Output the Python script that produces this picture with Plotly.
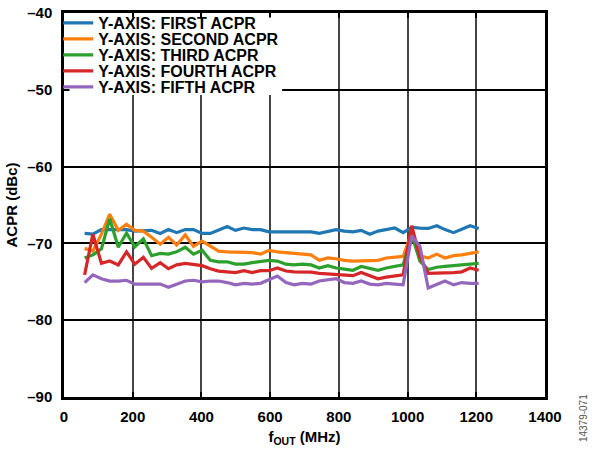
import plotly.graph_objects as go

freq_mhz = [60, 84, 109, 133, 158, 182, 206, 231, 255, 280, 304, 328, 353, 377, 402, 426,
            450, 475, 499, 524, 548, 572, 597, 621, 646, 670, 694, 719, 743, 768, 792, 816,
            841, 865, 890, 914, 938, 963, 987, 1012, 1036, 1060, 1085, 1109, 1134, 1158,
            1182, 1207]

first_acpr = [-68.7, -68.8, -68.2, -68.2, -68.3, -68.2, -68.4, -68.3, -68.3, -68.7, -68.2,
              -68.6, -68.2, -68.2, -68.7, -68.7, -68.3, -67.8, -68.3, -68.0, -68.2, -68.2,
              -68.5, -68.5, -68.4, -68.5, -68.4, -68.5, -68.7, -68.4, -68.2, -68.4, -68.5,
              -68.3, -68.8, -68.4, -68.2, -68.0, -68.6, -67.9, -68.0, -68.05, -67.7, -68.2,
              -68.6, -68.2, -67.7, -68.05]
second_acpr = [-70.65, -71.0, -68.8, -66.2, -68.3, -67.5, -68.3, -68.4, -69.2, -70.1, -69.2,
               -70.2, -68.9, -70.4, -69.7, -70.4, -71.0, -71.1, -71.1, -71.1, -71.2, -71.4,
               -70.9, -71.1, -71.2, -71.3, -71.3, -71.5, -72.2, -71.9, -72.0, -72.2, -72.3,
               -72.3, -72.2, -72.2, -71.9, -71.8, -71.7, -68.6, -71.6, -71.9, -71.4, -71.9,
               -71.6, -71.5, -71.3, -71.1]
third_acpr = [-71.9, -71.5, -70.7, -66.8, -70.5, -68.65, -70.45, -69.4, -71.6, -71.3, -71.4,
              -71.1, -70.5, -71.4, -70.9, -72.2, -72.4, -72.4, -72.7, -72.7, -72.5, -72.4,
              -72.2, -72.3, -72.7, -72.8, -72.7, -72.8, -73.2, -72.9, -73.2, -73.35, -73.5,
              -73.0, -73.3, -73.5, -73.2, -73.0, -72.8, -68.9, -72.3, -73.4, -73.1, -73.0,
              -72.9, -72.9, -72.7, -72.6]
fourth_acpr = [-74.1, -68.8, -72.6, -72.3, -72.8, -71.1, -72.7, -71.8, -73.25, -72.5, -73.3,
               -72.8, -72.6, -72.7, -72.9, -73.3, -73.6, -73.7, -73.8, -73.55, -73.8, -73.55,
               -73.55, -73.2, -73.6, -73.7, -73.7, -73.75, -73.9, -74.0, -74.0, -74.1, -74.2,
               -73.8, -74.2, -74.6, -74.4, -74.2, -74.1, -67.7, -71.8, -73.9, -73.9, -73.8,
               -73.8, -73.7, -73.2, -73.5]
fifth_acpr = [-75.1, -74.1, -74.6, -74.9, -74.9, -74.8, -75.3, -75.3, -75.3, -75.3, -75.7,
              -75.3, -74.9, -74.8, -75.0, -74.9, -74.9, -75.1, -75.4, -75.2, -75.3, -75.2,
              -74.7, -74.25, -75.1, -75.4, -75.2, -75.3, -74.9, -74.8, -74.6, -75.1, -75.2,
              -74.9, -75.3, -75.4, -75.2, -75.3, -75.4, -69.0, -70.4, -75.8, -75.3, -74.9,
              -75.4, -75.1, -75.2, -75.2]

series_names = ["Y-AXIS: FIRST ACPR", "Y-AXIS: SECOND ACPR", "Y-AXIS: THIRD ACPR",
                "Y-AXIS: FOURTH ACPR", "Y-AXIS: FIFTH ACPR"]
series_values = [first_acpr, second_acpr, third_acpr, fourth_acpr, fifth_acpr]
series_colors = ["#1f77b4", "#ff7f0e", "#2ca02c", "#d62728", "#9467bd"]

x_ticks = [0, 200, 400, 600, 800, 1000, 1200, 1400]
y_ticks = [-90, -80, -70, -60, -50, -40]
y_ticktext = ["–90", "–80", "–70", "–60", "–50", "–40"]

FONT = "Liberation Sans, Arial, Helvetica, sans-serif"

fig = go.Figure()
legend_names = ["legend", "legend2", "legend3", "legend4", "legend5"]
for name, vals, col, lg in zip(series_names, series_values, series_colors, legend_names):
    fig.add_trace(go.Scatter(x=freq_mhz, y=vals, mode="lines", name=name,
                             line=dict(color=col, width=3.2), legend=lg, showlegend=True))

# legend rows: one small legend per series so rows can sit 16px apart
row_px = [23, 39, 55, 71, 87]
legend_layout = {}
for lg, py in zip(legend_names, row_px):
    legend_layout[lg] = dict(
        x=-0.012, xanchor="left", y=1 - (py - 13) / 384, yanchor="middle",
        bgcolor="rgba(0,0,0,0)", borderwidth=0, visible=True,
        font=dict(family=FONT, size=16, color="black", weight="bold"),
    )

axis_common = dict(
    showline=True, linecolor="black", linewidth=2.5, mirror="ticks",
    ticks="inside", ticklen=5, tickwidth=1.5, tickcolor="black",
    showgrid=True, zeroline=False, automargin=False,
    tickfont=dict(family=FONT, size=15, color="black", weight="bold"),
)

fig.update_layout(
    width=596, height=456,
    margin=dict(l=64, r=51, t=13, b=59, autoexpand=False),
    paper_bgcolor="white", plot_bgcolor="white",
    showlegend=True,
    font=dict(family=FONT, color="black"),
    xaxis=dict(
        range=[0, 1400], tickvals=x_ticks, ticktext=[str(v) for v in x_ticks],
        gridcolor="#444444", gridwidth=1.5, ticklabelstandoff=4,
        title=dict(text="f<sub>OUT</sub> (MHz)", standoff=8,
                   font=dict(family=FONT, size=15, color="black", weight="bold")),
        **axis_common,
    ),
    yaxis=dict(
        range=[-90, -40], tickvals=y_ticks, ticktext=y_ticktext,
        gridcolor="black", gridwidth=1.5, ticklabelstandoff=6,
        title=dict(text="ACPR (dBc)", standoff=6,
                   font=dict(family=FONT, size=15, color="black", weight="bold")),
        **axis_common,
    ),
    shapes=[dict(type="rect", xref="x", yref="y", x0=16, x1=635, y0=-50.68, y1=-40.6,
                 fillcolor="white", line=dict(width=0), layer="above")],
    annotations=[dict(text="14379-071", xref="paper", yref="paper", x=1.079, y=-0.055,
                      xanchor="center", yanchor="middle",
                      showarrow=False, textangle=-90,
                      font=dict(family=FONT, size=10, color="#555555"))],
    **legend_layout,
)

fig.write_html("out.html", config={"displayModeBar": False},
               post_script="document.body.style.margin='0';document.body.style.overflow='hidden';")
